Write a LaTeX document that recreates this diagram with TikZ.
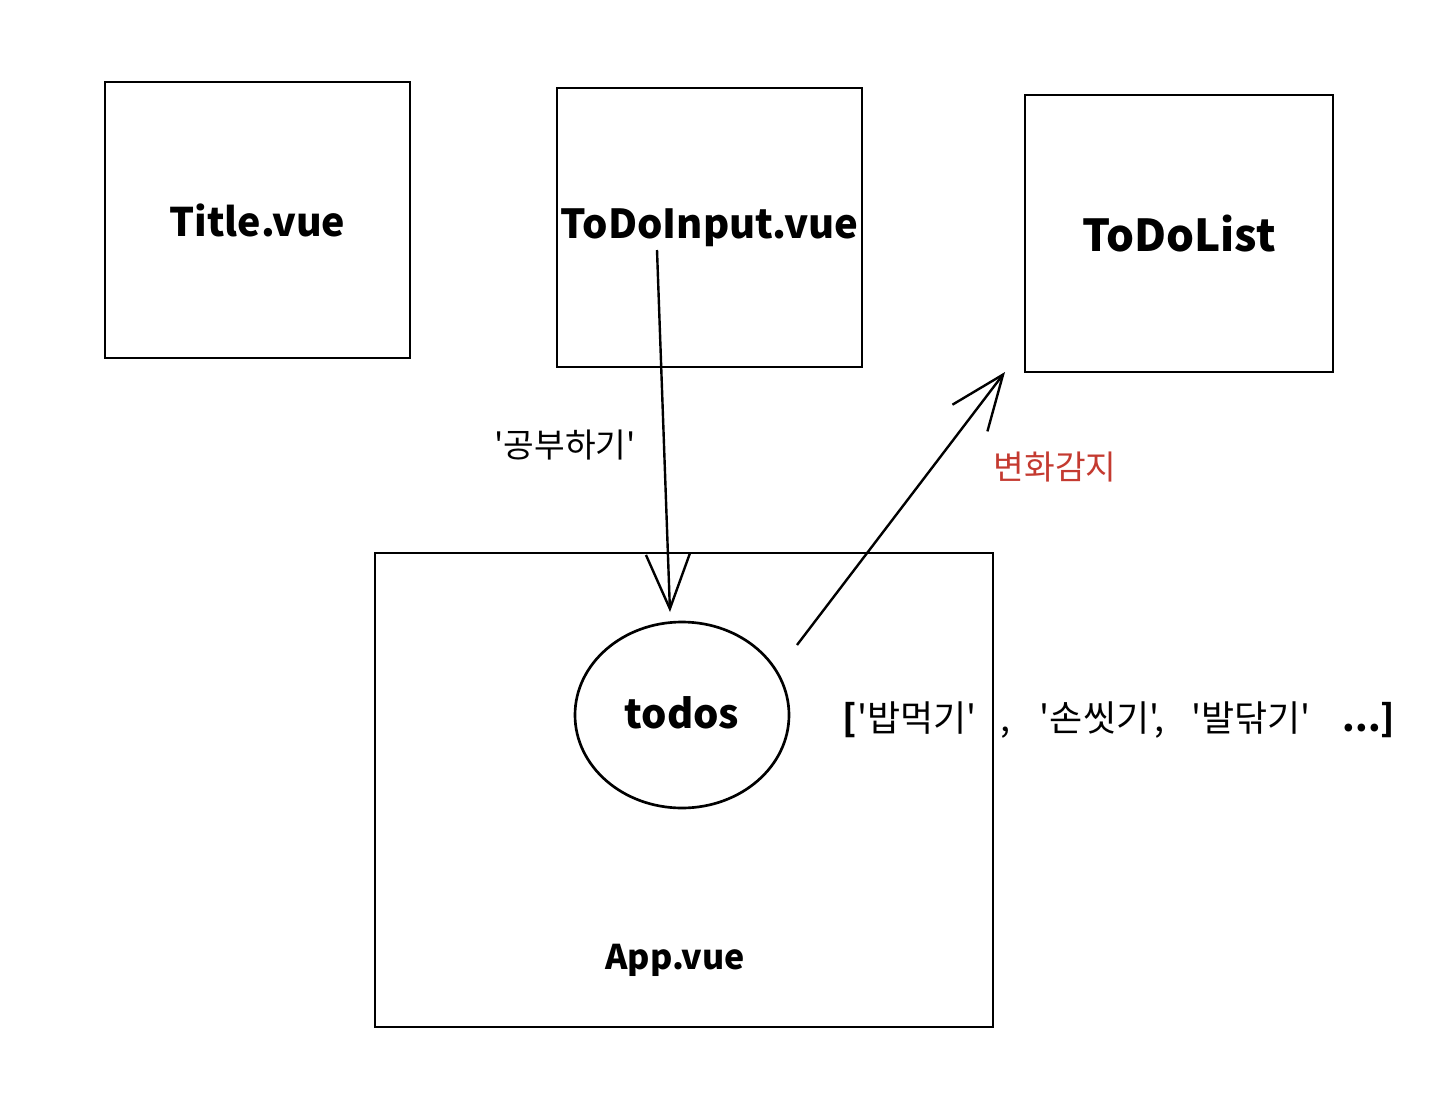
\documentclass[tikz,border=0pt]{standalone}
\usepackage{fontspec}
\setmainfont{Noto Sans CJK KR}[Ligatures=TeXOff]
\usetikzlibrary{arrows.meta,shapes.geometric}
\definecolor{warnred}{RGB}{196,58,48}
\begin{document}
\begin{tikzpicture}[x=0.75pt,y=-0.75pt,
  box/.style={draw, line width=2pt, inner sep=0pt},
  lbl/.style={font=\bfseries\fontsize{#1}{#1}\selectfont, inner sep=0pt},
  klbl/.style={font=\fontsize{#1}{#1}\selectfont, inner sep=0pt},
  arr/.style={line width=1.8pt, -{Straight Barb[length=41pt,width=33pt,line width=1.8pt]}}]
\useasboundingbox (0,0) rectangle (1454,1110);
\node[box, lbl=29.5, minimum width=228.75pt, minimum height=207pt] (title) at (257.5,220) {Title.vue};
\node[box, lbl=30, minimum width=228.75pt, minimum height=209.25pt] (input) at (709.5,227.5) {ToDoInput.vue};
\node[box, lbl=33, minimum width=231pt, minimum height=207.75pt] (list) at (1179,233.5) {ToDoList};
\node[box, minimum width=463.5pt, minimum height=355.5pt] (app) at (684,790) {};
\node[lbl=25.5] (applbl) at (675,960) {App.vue};
\node[box, ellipse, lbl=30, minimum width=160.5pt, minimum height=139.5pt] (todos) at (682,715) {\raisebox{4pt}{todos}};
\coordinate (a1s) at (657,250);
\coordinate (a1e) at (670,612);
\coordinate (a2s) at (797,645);
\coordinate (a2e) at (1005,372);
\draw[arr] (a1s) -- (a1e);
\draw[arr] (a2s) -- (a2e);
\node[klbl=25] (study) at (565,445) {'공부하기'};
\node[klbl=25, text=warnred] (detect) at (1055,467) {변화감지};
\node[klbl=27] (items) at (1119,720) {\textbf{[}'밥먹기'\hspace{18pt},\hspace{22pt}'손씻기',\hspace{20pt}'발닦기'\hspace{24pt}\textbf{...]}};
\end{tikzpicture}
\end{document}
